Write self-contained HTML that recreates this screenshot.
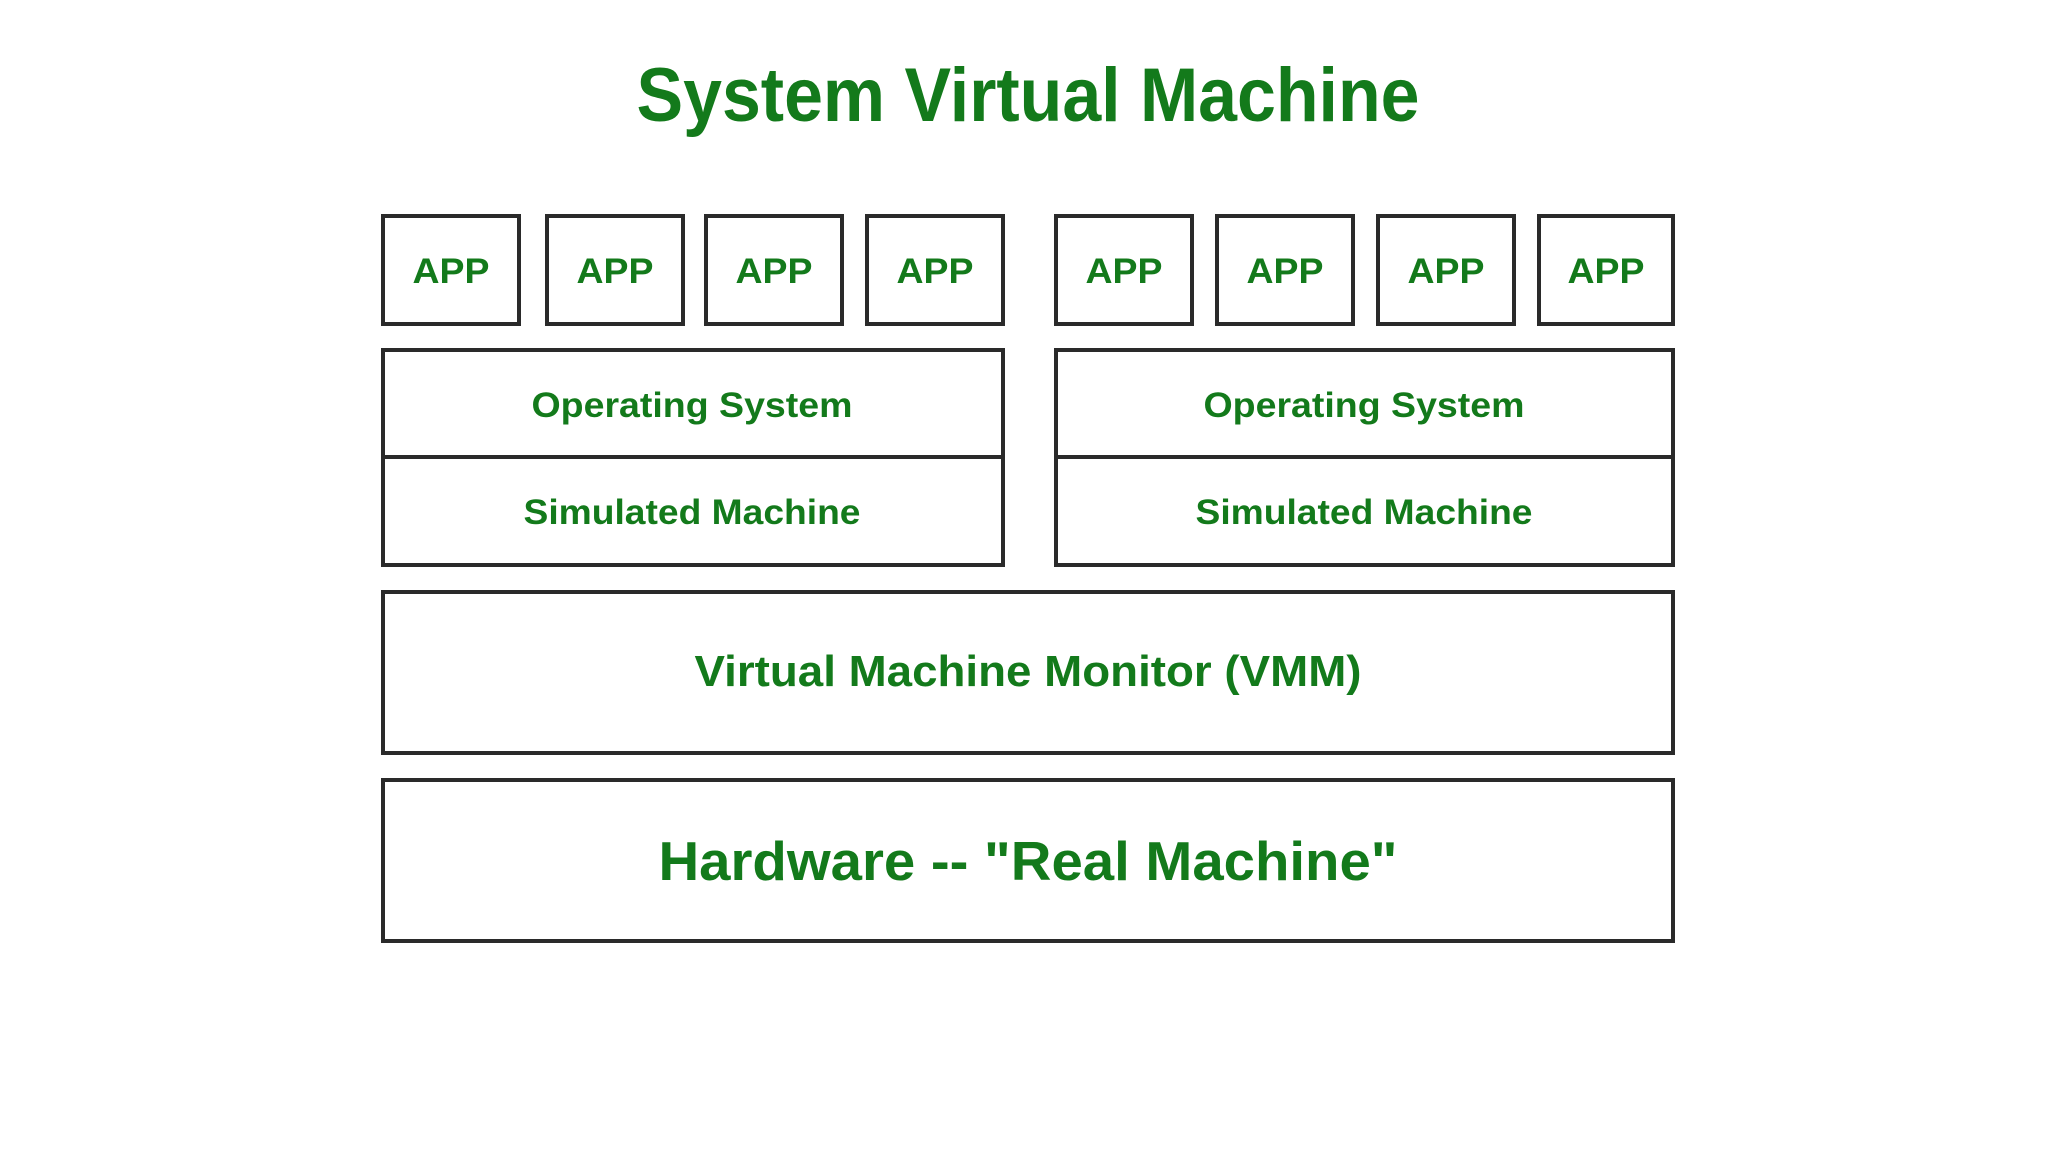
<!DOCTYPE html>
<html><head><meta charset="utf-8"><style>html,body{margin:0;padding:0;background:#fff}svg{display:block}</style></head>
<body>
<svg width="2048" height="1152" viewBox="0 0 2048 1152" xmlns="http://www.w3.org/2000/svg">
<rect width="2048" height="1152" fill="#fff"/>
<g font-family="Liberation Sans, Arial, sans-serif" font-weight="bold" fill="#137a1b" text-anchor="middle">
<text x="1028" y="121" font-size="76" textLength="783" lengthAdjust="spacingAndGlyphs">System Virtual Machine</text>
</g>
<g fill="#fff" stroke="#2a2a2a" stroke-width="4">
<rect x="383" y="216" width="136" height="108"/>
<rect x="547" y="216" width="136" height="108"/>
<rect x="706" y="216" width="136" height="108"/>
<rect x="867" y="216" width="136" height="108"/>
<rect x="1056" y="216" width="136" height="108"/>
<rect x="1217" y="216" width="136" height="108"/>
<rect x="1378" y="216" width="136" height="108"/>
<rect x="1539" y="216" width="134" height="108"/>
<rect x="383" y="350" width="620" height="107"/>
<rect x="383" y="457" width="620" height="108"/>
<rect x="1056" y="350" width="617" height="107"/>
<rect x="1056" y="457" width="617" height="108"/>
<rect x="383" y="592" width="1290" height="161"/>
<rect x="383" y="780" width="1290" height="161"/>
</g>
<g font-family="Liberation Sans, Arial, sans-serif" font-weight="bold" fill="#137a1b" text-anchor="middle">
<text x="451" y="283" font-size="35" textLength="77" lengthAdjust="spacingAndGlyphs">APP</text>
<text x="615" y="283" font-size="35" textLength="77" lengthAdjust="spacingAndGlyphs">APP</text>
<text x="774" y="283" font-size="35" textLength="77" lengthAdjust="spacingAndGlyphs">APP</text>
<text x="935" y="283" font-size="35" textLength="77" lengthAdjust="spacingAndGlyphs">APP</text>
<text x="1124" y="283" font-size="35" textLength="77" lengthAdjust="spacingAndGlyphs">APP</text>
<text x="1285" y="283" font-size="35" textLength="77" lengthAdjust="spacingAndGlyphs">APP</text>
<text x="1446" y="283" font-size="35" textLength="77" lengthAdjust="spacingAndGlyphs">APP</text>
<text x="1606" y="283" font-size="35" textLength="77" lengthAdjust="spacingAndGlyphs">APP</text>
<text x="692" y="417" font-size="35" textLength="321" lengthAdjust="spacingAndGlyphs">Operating System</text>
<text x="692" y="524" font-size="35" textLength="337" lengthAdjust="spacingAndGlyphs">Simulated Machine</text>
<text x="1364" y="417" font-size="35" textLength="321" lengthAdjust="spacingAndGlyphs">Operating System</text>
<text x="1364" y="524" font-size="35" textLength="337" lengthAdjust="spacingAndGlyphs">Simulated Machine</text>
<text x="1028" y="686" font-size="44" textLength="667" lengthAdjust="spacingAndGlyphs">Virtual Machine Monitor (VMM)</text>
<text x="1028" y="880" font-size="55" textLength="739" lengthAdjust="spacingAndGlyphs">Hardware -- "Real Machine"</text>
</g>
</svg>
</body></html>
